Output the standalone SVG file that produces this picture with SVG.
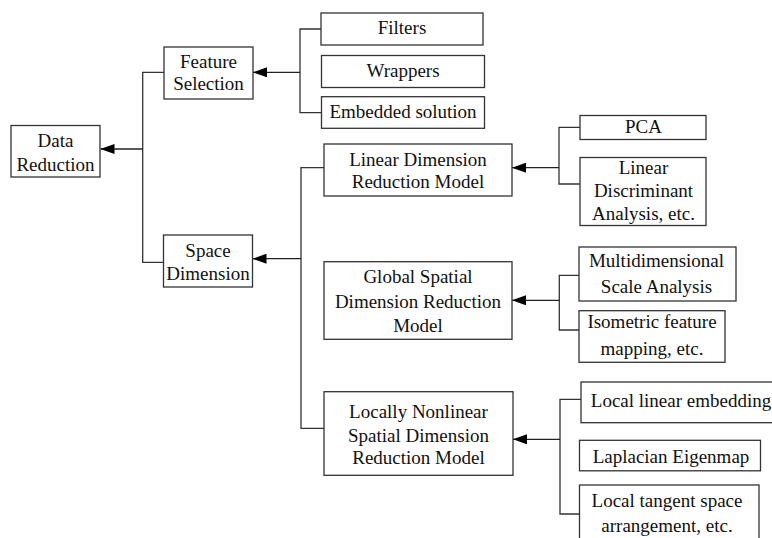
<svg xmlns="http://www.w3.org/2000/svg" width="772" height="538" viewBox="0 0 772 538">
<defs>
<marker id="arr" markerUnits="userSpaceOnUse" markerWidth="14" markerHeight="10" refX="14" refY="5" orient="auto">
<path d="M0,0 L14,5 L0,10 z" fill="#000"/>
</marker>
<style>
rect{fill:#fff;stroke:#333;stroke-width:1.3}
text{font-size:19px;fill:#111;text-anchor:middle}
.c{fill:none;stroke:#333;stroke-width:1.3}
.a{fill:none;stroke:#222;stroke-width:1.3;marker-end:url(#arr)}
</style>
</defs>
<rect x="0" y="0" width="772" height="538" style="fill:#fff;stroke:none"/>
<g id="connectors">
<path class="c" d="M164,72.3 H142.7 V262.3 H163.5"/>
<line class="a" x1="142.7" y1="149" x2="100.5" y2="149"/>
<path class="c" d="M321,29 H300 V112.7 H321.5"/>
<line class="a" x1="300" y1="72.3" x2="253" y2="72.3"/>
<path class="c" d="M324,167.7 H301 V428.3 H324"/>
<line class="a" x1="301" y1="258.7" x2="252.5" y2="258.7"/>
<path class="c" d="M580,127.3 H559 V184 H580"/>
<line class="a" x1="559" y1="167.7" x2="512" y2="167.7"/>
<path class="c" d="M579,275.3 H559.3 V330 H579"/>
<line class="a" x1="559.3" y1="300.3" x2="512" y2="300.3"/>
<path class="c" d="M581,399.3 H560 V514 H579.5"/>
<line class="a" x1="560" y1="439.3" x2="513" y2="439.3"/>
</g>
<g font-family="Liberation Serif, Tinos, Times New Roman, DejaVu Serif, serif">
<g id="data-reduction">
<rect x="11" y="125.5" width="89" height="51.5"/>
<text x="55.5" y="147">Data</text>
<text x="55.5" y="171">Reduction</text>
</g>
<g id="feature-selection">
<rect x="164" y="47" width="89" height="52"/>
<text x="208.5" y="67.7">Feature</text>
<text x="208.5" y="90">Selection</text>
</g>
<g id="space-dimension">
<rect x="163.5" y="235" width="89" height="52"/>
<text x="208" y="257.3">Space</text>
<text x="208" y="280">Dimension</text>
</g>
<g id="filters">
<rect x="321" y="13" width="162" height="32"/>
<text x="402" y="34">Filters</text>
</g>
<g id="wrappers">
<rect x="321.5" y="55.5" width="163" height="32"/>
<text x="403" y="77">Wrappers</text>
</g>
<g id="embedded">
<rect x="321.5" y="96.7" width="163" height="31.6"/>
<text x="403" y="118">Embedded solution</text>
</g>
<g id="linear-dim">
<rect x="324" y="144" width="188" height="52"/>
<text x="418" y="165.7">Linear Dimension</text>
<text x="418" y="188.3">Reduction Model</text>
</g>
<g id="global">
<rect x="324" y="261.7" width="188" height="77.6"/>
<text x="418" y="283.3">Global Spatial</text>
<text x="418" y="307.7">Dimension Reduction</text>
<text x="418" y="332">Model</text>
</g>
<g id="locally">
<rect x="324" y="391.7" width="189" height="83.6"/>
<text x="418.5" y="418.3">Locally Nonlinear</text>
<text x="418.5" y="441.7">Spatial Dimension</text>
<text x="418.5" y="464.3">Reduction Model</text>
</g>
<g id="pca">
<rect x="580" y="115.5" width="126" height="24"/>
<text x="643.5" y="133.3">PCA</text>
</g>
<g id="lda">
<rect x="580" y="157.5" width="126" height="68"/>
<text x="643.5" y="174">Linear</text>
<text x="643.5" y="197">Discriminant</text>
<text x="643.5" y="220">Analysis, etc.</text>
</g>
<g id="mds">
<rect x="579" y="247" width="157" height="54"/>
<text x="656.5" y="266.7">Multidimensional</text>
<text x="656.5" y="293.3">Scale Analysis</text>
</g>
<g id="isomap">
<rect x="579" y="310.7" width="146" height="51.6"/>
<text x="652" y="328.3">Isometric feature</text>
<text x="652" y="355">mapping, etc.</text>
</g>
<g id="lle">
<rect x="581" y="382" width="200" height="40.7"/>
<text x="681" y="407.3">Local linear embedding</text>
</g>
<g id="laplacian">
<rect x="579.5" y="440.3" width="181" height="30.5"/>
<text x="671" y="463.3">Laplacian Eigenmap</text>
</g>
<g id="ltsa">
<rect x="579.5" y="485" width="179.5" height="60"/>
<text x="667" y="506.7">Local tangent space</text>
<text x="667" y="532.3">arrangement, etc.</text>
</g>
</g>
</svg>
